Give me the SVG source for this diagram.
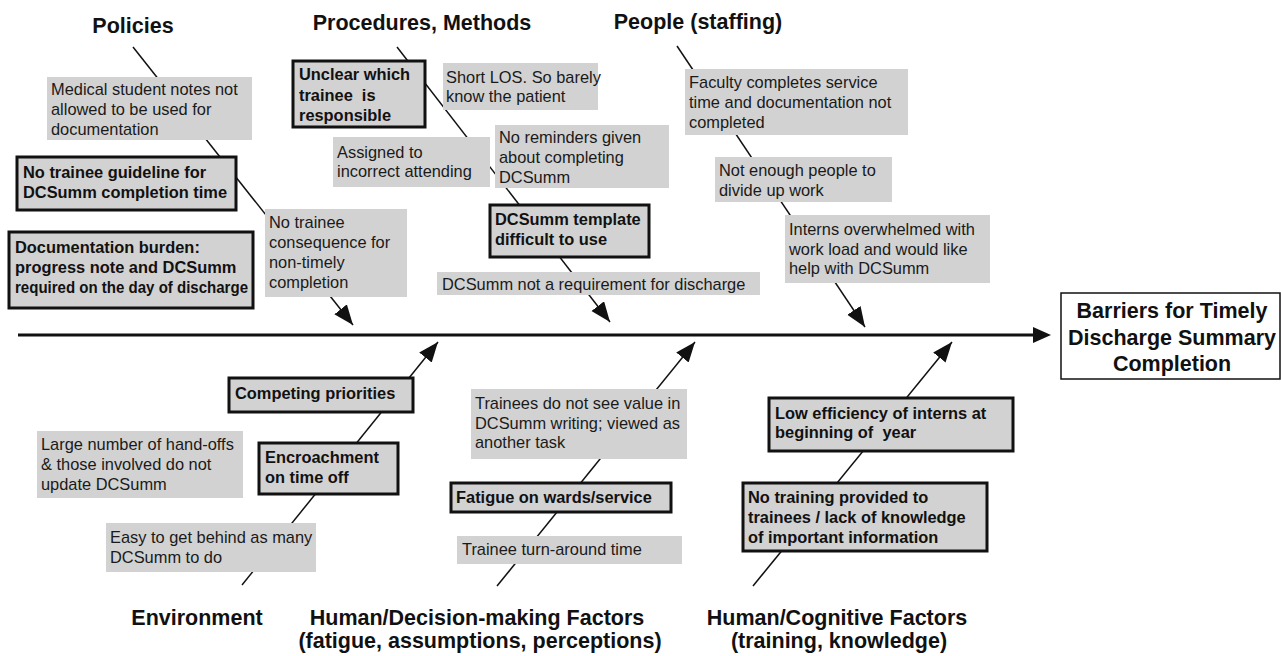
<svg xmlns="http://www.w3.org/2000/svg" width="1281" height="656" viewBox="0 0 1281 656">
<defs>
<style>
.bg{fill:#ffffff}
.g{fill:#d2d2d2;stroke:none}
.b{fill:#d2d2d2;stroke:#111;stroke-width:3}
.t{font-family:"Liberation Sans",Arial,sans-serif;font-size:16.4px;fill:#1a1a1a}
.tb{font-family:"Liberation Sans",Arial,sans-serif;font-size:16.4px;font-weight:bold;fill:#111}
.cat{font-family:"Liberation Sans",Arial,sans-serif;font-size:21.5px;font-weight:bold;fill:#111;text-anchor:middle}
.bone{stroke:#111;stroke-width:1.5;fill:none;marker-end:url(#ah)}
.spine{stroke:#111;stroke-width:3;fill:none}
</style>
<marker id="ah" markerUnits="userSpaceOnUse" markerWidth="22" markerHeight="18" refX="20" refY="8" orient="auto">
<path d="M0,0 L20,8 L0,16 z" fill="#111"/>
</marker>
</defs>
<rect class="bg" x="0" y="0" width="1281" height="656"/>

<g id="connectors">
<line class="spine" x1="18" y1="335" x2="1036" y2="335"/>
<polygon points="1033,327 1051,335 1033,343" fill="#111"/>
<line class="bone" x1="133" y1="47" x2="353" y2="325"/>
<line class="bone" x1="397" y1="47" x2="610" y2="322"/>
<line class="bone" x1="677" y1="46" x2="865" y2="327"/>
<line class="bone" x1="242" y1="585" x2="438" y2="342"/>
<line class="bone" x1="497" y1="586" x2="695" y2="342"/>
<line class="bone" x1="753" y1="586" x2="952" y2="342"/>
</g>

<g id="cat-policies"><text class="cat" x="133" y="33">Policies</text></g>
<g id="cat-procedures"><text class="cat" x="422" y="30">Procedures, Methods</text></g>
<g id="cat-people"><text class="cat" x="698" y="29">People (staffing)</text></g>
<g id="cat-environment"><text class="cat" x="197" y="625">Environment</text></g>
<g id="cat-decision"><text class="cat" x="477" y="625">Human/Decision-making Factors</text><text class="cat" x="480" y="648">(fatigue, assumptions, perceptions)</text></g>
<g id="cat-cognitive"><text class="cat" x="837" y="625">Human/Cognitive Factors</text><text class="cat" x="839" y="648">(training, knowledge)</text></g>

<g id="result">
<rect x="1061" y="293" width="219" height="86" fill="#fff" stroke="#111" stroke-width="1.5"/>
<text class="cat" x="1172" y="318">Barriers for Timely</text>
<text class="cat" x="1172" y="345">Discharge Summary</text>
<text class="cat" x="1172" y="371">Completion</text>
</g>

<g id="n1"><rect class="g" x="47" y="77" width="205" height="63"/>
<text class="t" x="51" y="95">Medical student notes not</text><text class="t" x="51" y="115">allowed to be used for</text><text class="t" x="51" y="135">documentation</text></g>
<g id="n2"><rect class="b" x="17" y="157" width="219" height="53"/>
<text class="tb" x="23" y="178">No trainee guideline for</text><text class="tb" x="23" y="198">DCSumm completion time</text></g>
<g id="n3"><rect class="b" x="9" y="232" width="244" height="76"/>
<text class="tb" x="15" y="253">Documentation burden:</text><text class="tb" x="15" y="273">progress note and DCSumm</text><text class="tb" x="15" y="293" textLength="233" lengthAdjust="spacingAndGlyphs">required on the day of discharge</text></g>
<g id="n4"><rect class="g" x="265" y="209" width="142" height="88"/>
<text class="t" x="269" y="228">No trainee</text><text class="t" x="269" y="248">consequence for</text><text class="t" x="269" y="268">non-timely</text><text class="t" x="269" y="288">completion</text></g>

<g id="n5"><rect class="b" x="293" y="61" width="132" height="66"/>
<text class="tb" x="299" y="80">Unclear which</text><text class="tb" x="299" y="101" xml:space="preserve">trainee  is</text><text class="tb" x="299" y="121">responsible</text></g>
<g id="n6"><rect class="g" x="443" y="63" width="155" height="47"/>
<text class="t" x="446" y="83">Short LOS. So barely</text><text class="t" x="446" y="102">know the patient</text></g>
<g id="n7"><rect class="g" x="333" y="137" width="157" height="50"/>
<text class="t" x="337" y="158">Assigned to</text><text class="t" x="337" y="177">incorrect attending</text></g>
<g id="n8"><rect class="g" x="495" y="125" width="174" height="63"/>
<text class="t" x="499" y="143">No reminders given</text><text class="t" x="499" y="163">about completing</text><text class="t" x="499" y="183">DCSumm</text></g>
<g id="n9"><rect class="b" x="490" y="205" width="159" height="52"/>
<text class="tb" x="495" y="225">DCSumm template</text><text class="tb" x="495" y="245">difficult to use</text></g>
<g id="n10"><rect class="g" x="437" y="272" width="323" height="23"/>
<text class="t" x="442" y="290">DCSumm not a requirement for discharge</text></g>

<g id="n11"><rect class="g" x="685" y="69" width="223" height="66"/>
<text class="t" x="689" y="88">Faculty completes service</text><text class="t" x="689" y="108">time and documentation not</text><text class="t" x="689" y="128">completed</text></g>
<g id="n12"><rect class="g" x="715" y="157" width="177" height="45"/>
<text class="t" x="719" y="176">Not enough people to</text><text class="t" x="719" y="196">divide up work</text></g>
<g id="n13"><rect class="g" x="785" y="215" width="205" height="68"/>
<text class="t" x="789" y="235">Interns overwhelmed with</text><text class="t" x="789" y="255">work load and would like</text><text class="t" x="789" y="274">help with DCSumm</text></g>

<g id="n14"><rect class="b" x="229" y="378" width="184" height="34"/>
<text class="tb" x="235" y="399">Competing priorities</text></g>
<g id="n15"><rect class="g" x="37" y="431" width="206" height="67"/>
<text class="t" x="41" y="450">Large number of hand-offs</text><text class="t" x="41" y="470">&amp; those involved do not</text><text class="t" x="41" y="490">update DCSumm</text></g>
<g id="n16"><rect class="b" x="259" y="443" width="139" height="51"/>
<text class="tb" x="265" y="463">Encroachment</text><text class="tb" x="265" y="483">on time off</text></g>
<g id="n17"><rect class="g" x="106" y="523" width="210" height="49"/>
<text class="t" x="110" y="543">Easy to get behind as many</text><text class="t" x="110" y="563">DCSumm to do</text></g>

<g id="n18"><rect class="g" x="471" y="389" width="216" height="70"/>
<text class="t" x="475" y="409">Trainees do not see value in</text><text class="t" x="475" y="429">DCSumm writing; viewed as</text><text class="t" x="475" y="448">another task</text></g>
<g id="n19"><rect class="b" x="451" y="483" width="220" height="29"/>
<text class="tb" x="456" y="503">Fatigue on wards/service</text></g>
<g id="n20"><rect class="g" x="457" y="536" width="225" height="28"/>
<text class="t" x="462" y="555">Trainee turn-around time</text></g>

<g id="n21"><rect class="b" x="769" y="398" width="244" height="53"/>
<text class="tb" x="775" y="419">Low efficiency of interns at</text><text class="tb" x="775" y="438" xml:space="preserve">beginning of  year</text></g>
<g id="n22"><rect class="b" x="743" y="483" width="244" height="68"/>
<text class="tb" x="748" y="503">No training provided to</text><text class="tb" x="748" y="523">trainees / lack of knowledge</text><text class="tb" x="748" y="543">of important information</text></g>
</svg>
